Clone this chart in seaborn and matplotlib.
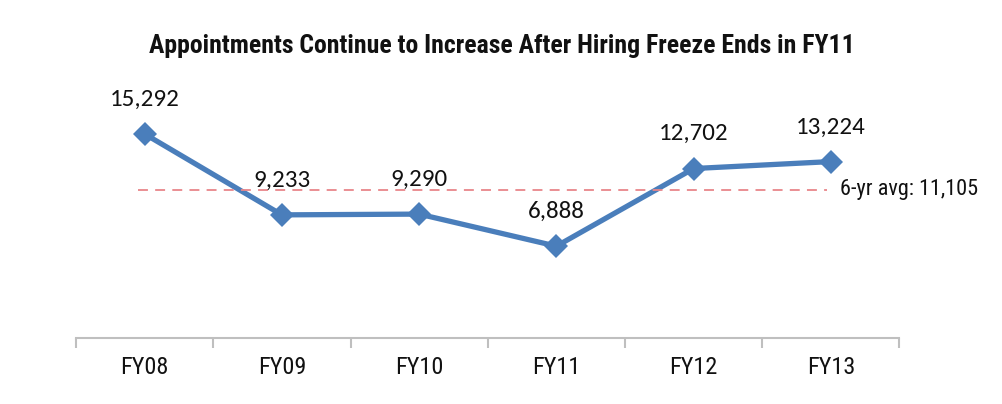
import matplotlib
matplotlib.use("Agg")
import matplotlib.pyplot as plt
import seaborn as sns
import pandas as pd

years = ["FY08", "FY09", "FY10", "FY11", "FY12", "FY13"]
appointments = [15292, 9233, 9290, 6888, 12702, 13224]
avg_value = 11105
avg_label = "6-yr avg: 11,105"
title = "Appointments Continue to Increase After Hiring Freeze Ends in FY11"

df = pd.DataFrame({"year": years, "appointments": appointments})

sns.set_style("white")
narrow = ["Roboto Condensed", "DejaVu Sans"]
label_font = ["Carlito", "DejaVu Sans"]

fig = plt.figure(figsize=(10.03, 4.04), dpi=100)
ax = fig.add_axes([0.0758, 0.163, 0.821, 0.661])

sns.lineplot(data=df, x="year", y="appointments", ax=ax, color="#4a7ebb",
             linewidth=3.8, marker="D", markersize=12.5, markeredgewidth=0,
             sort=False)

ax.hlines(avg_value, -0.05, 4.97, colors="#e8868a", linestyles=(0, (5.5, 4)),
          linewidth=1.3)
ax.text(5.07, avg_value, avg_label, fontsize=16, family=narrow,
        va="center", ha="left", color="#111111")

for i, v in enumerate(appointments):
    ax.annotate(f"{v:,}", (i, v), xytext=(0, 25), textcoords="offset points",
                ha="center", va="center", fontsize=18, family=label_font,
                color="#111111")

ax.set_xlim(-0.5, 5.5)
ax.set_ylim(0, 20000)
ax.set_yticks([])
ax.set_xlabel("")
ax.set_ylabel("")
for s in ["top", "right", "left"]:
    ax.spines[s].set_visible(False)
ax.spines["bottom"].set_color("#bfbfbf")
ax.spines["bottom"].set_linewidth(1.5)

ax.set_xticks([x - 0.5 for x in range(7)], minor=True)
ax.set_xticks(range(6))
ax.set_xticklabels(years, fontsize=17.5, family=narrow, color="#111111")
ax.tick_params(axis="x", which="major", length=0, pad=13)
ax.tick_params(axis="x", which="minor", length=7, width=1.5, color="#bfbfbf",
               direction="out", bottom=True)

fig.text(0.5, 0.886, title, ha="center", va="center", fontsize=18.5,
         fontweight="bold", family=narrow, color="#111111")

fig.savefig("out.png", dpi=100, facecolor="white")
